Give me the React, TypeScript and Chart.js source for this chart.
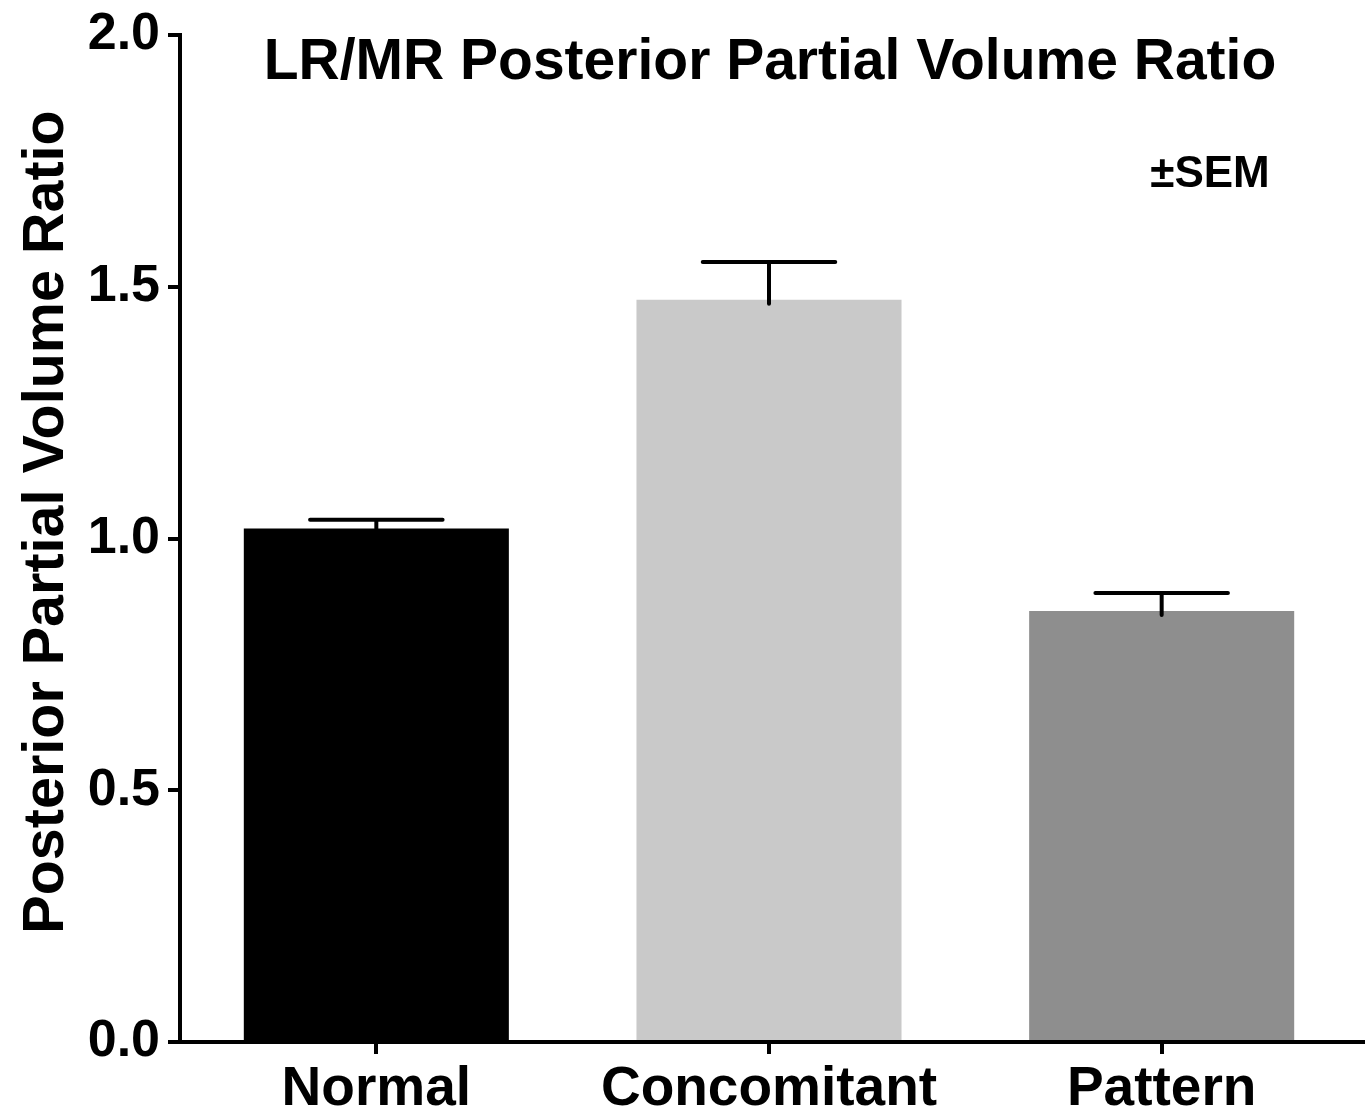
import React, { useEffect, useRef } from "react";
import { Chart, registerables } from "chart.js";

Chart.register(...registerables);

const categories = ["Normal", "Concomitant", "Pattern"];
const means = [1.02, 1.474, 0.856];
const upperErrors = [1.037, 1.549, 0.892];
const barColors = ["#000000", "#c9c9c9", "#8e8e8e"];
const yTicks = [0, 0.5, 1.0, 1.5, 2.0];
const titleText = "LR/MR Posterior Partial Volume Ratio";
const yTitleText = "Posterior Partial Volume Ratio";
const noteText = "±SEM";

const FONT = "'Liberation Sans', Arial, Helvetica, sans-serif";

const overlayPlugin = {
  id: "overlay",
  afterDatasetsDraw(chart: any) {
    const ctx = chart.ctx;
    const yScale = chart.scales.y;
    const meta = chart.getDatasetMeta(0);
    ctx.save();
    ctx.strokeStyle = "#000";
    ctx.lineWidth = 4;
    ctx.lineCap = "round";
    meta.data.forEach((bar: any, i: number) => {
      const x = bar.x;
      const yTop = yScale.getPixelForValue(upperErrors[i]);
      const yBar = yScale.getPixelForValue(means[i]);
      const half = bar.width * 0.25;
      ctx.beginPath();
      ctx.moveTo(x, yBar + 4);
      ctx.lineTo(x, yTop);
      ctx.moveTo(x - half, yTop);
      ctx.lineTo(x + half, yTop);
      ctx.stroke();
    });
    ctx.restore();
  },
  afterDraw(chart: any) {
    const ctx = chart.ctx;
    const area = chart.chartArea;
    ctx.save();
    // extend x axis line to right edge
    ctx.strokeStyle = "#000";
    ctx.lineWidth = 4;
    ctx.beginPath();
    ctx.moveTo(area.right - 2, area.bottom);
    ctx.lineTo(chart.width, area.bottom);
    ctx.stroke();

    ctx.fillStyle = "#000";
    ctx.textAlign = "center";
    ctx.textBaseline = "alphabetic";
    ctx.font = `bold 57px ${FONT}`;
    ctx.fillText(titleText, 770, 79);

    ctx.font = `bold 44px ${FONT}`;
    ctx.fillText(noteText, 1210, 187);

    ctx.translate(63, 522);
    ctx.rotate(-Math.PI / 2);
    ctx.font = `bold 57.5px ${FONT}`;
    ctx.fillText(yTitleText, 0, 0);
    ctx.restore();
  },
};

export default function App() {
  const canvasRef = useRef<HTMLCanvasElement>(null);

  useEffect(() => {
    document.body.style.margin = "0";
    const canvas = canvasRef.current;
    if (!canvas) return;
    const chart = new Chart(canvas, {
      type: "bar",
      data: {
        labels: categories,
        datasets: [
          {
            data: means,
            backgroundColor: barColors,
            borderWidth: 0,
            categoryPercentage: 1,
            barPercentage: 0.675,
          },
        ],
      },
      options: {
        animation: false,
        responsive: false,
        devicePixelRatio: 1,
        layout: { padding: { top: 35, right: 7, left: 0, bottom: 0 } },
        plugins: {
          legend: { display: false },
          tooltip: { enabled: false },
          title: { display: false },
        },
        scales: {
          x: {
            grid: {
              offset: false,
              drawOnChartArea: false,
              drawTicks: true,
              tickLength: 12,
              color: "#000",
              lineWidth: 4,
            },
            border: { display: true, color: "#000", width: 4 },
            ticks: {
              color: "#000",
              padding: 3,
              font: { family: FONT, size: 55, weight: "bold" },
            },
            afterFit(scale: any) {
              scale.height = 73;
              scale.paddingLeft = 0;
              scale.paddingRight = 0;
            },
          },
          y: {
            min: 0,
            max: 2,
            afterBuildTicks(scale: any) {
              scale.ticks = yTicks.map((v) => ({ value: v }));
            },
            grid: {
              drawOnChartArea: false,
              drawTicks: true,
              tickLength: 12,
              color: "#000",
              lineWidth: 4,
            },
            border: { display: true, color: "#000", width: 4 },
            ticks: {
              color: "#000",
              padding: 8,
              font: { family: FONT, size: 52, weight: "bold" },
              callback: (v: any) => Number(v).toFixed(1),
            },
            afterFit(scale: any) {
              scale.width = 180;
              scale.paddingTop = 0;
              scale.paddingBottom = 0;
            },
          },
        },
      },
      plugins: [overlayPlugin],
    });
    return () => chart.destroy();
  }, []);

  return (
    <div style={{ position: "absolute", left: 0, top: 0, width: 1365, height: 1115, background: "#fff" }}>
      <canvas ref={canvasRef} width={1365} height={1115} />
    </div>
  );
}
